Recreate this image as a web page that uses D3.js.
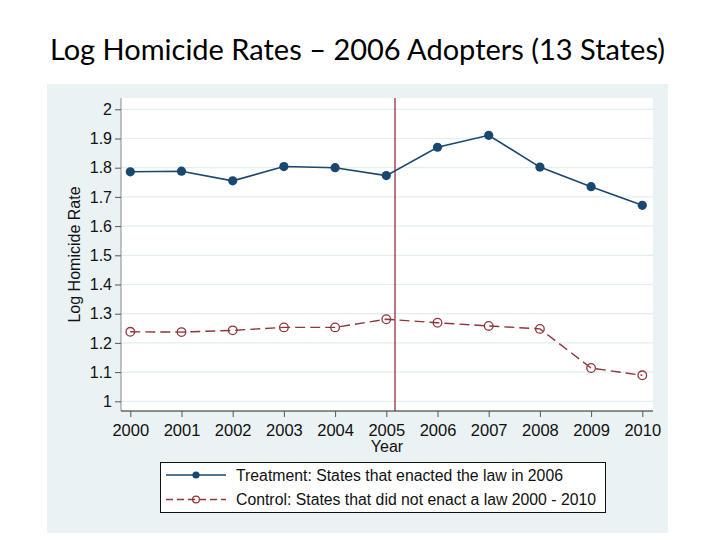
<!DOCTYPE html>
<html>
<head>
<meta charset="utf-8">
<script src="https://cdn.jsdelivr.net/npm/d3@7"></script>
<style>
  body { margin: 0; background: #ffffff; }
  text { font-family: "Liberation Sans", Arial, sans-serif; }
</style>
</head>
<body>
<div id="chart"></div>
<script>
const years = [2000, 2001, 2002, 2003, 2004, 2005, 2006, 2007, 2008, 2009, 2010];
const treatment = [1.786, 1.788, 1.755, 1.804, 1.800, 1.773, 1.870, 1.911, 1.802, 1.735, 1.671];
const control = [1.238, 1.237, 1.243, 1.253, 1.253, 1.281, 1.269, 1.258, 1.248, 1.114, 1.089];
const yTicks = [1, 1.1, 1.2, 1.3, 1.4, 1.5, 1.6, 1.7, 1.8, 1.9, 2];
const adoptLine = 2005.17;
const legendLabels = [
  "Treatment: States that enacted the law in 2006",
  "Control: States that did not enact a law 2000 - 2010"
];

const width = 720;
const height = 540;

var svg = d3.select("#chart").append("svg")
    .attr("width", width)
    .attr("height", height);

// slide title
svg.append("text")
    .attr("x", 357.5)
    .attr("y", 60)
    .attr("text-anchor", "middle")
    .style("font-family", "Lato, 'Open Sans', sans-serif")
    .style("font-size", "29px")
    .attr("fill", "#000")
    .text("Log Homicide Rates \u2013 2006 Adopters (13 States)");

// graph region
svg.append("rect")
    .attr("x", 47).attr("y", 84)
    .attr("width", 621).attr("height", 449)
    .attr("fill", "#eaf2f3");

// plot region
const plot = { left: 121, right: 653, top: 98, bottom: 411 };
svg.append("rect")
    .attr("x", plot.left).attr("y", plot.top)
    .attr("width", plot.right - plot.left).attr("height", plot.bottom - plot.top)
    .attr("fill", "#ffffff");

const xScale = d3.scaleLinear().domain([2000, 2010]).range([130.3, 642.3]);
const yScale = d3.scaleLinear().domain([1, 2]).range([401.3, 109.3]);

// grid lines
svg.append("g")
    .selectAll("line")
    .data(yTicks)
    .join("line")
    .attr("x1", plot.left).attr("x2", plot.right)
    .attr("y1", d => yScale(d)).attr("y2", d => yScale(d))
    .attr("stroke", "#e4edf0")
    .attr("stroke-width", 1.2);

// y axis
var yAxis = d3.axisLeft(yScale)
    .tickValues(yTicks)
    .tickFormat(d3.format("~g"))
    .tickSize(6)
    .tickPadding(3);

var gy = svg.append("g")
    .attr("transform", "translate(" + plot.left + ",0)")
    .call(yAxis);
gy.select(".domain").attr("d", "M0," + plot.top + "V" + plot.bottom).attr("stroke", "#8a8a8a");
gy.selectAll(".tick line").attr("stroke", "#555");
gy.selectAll(".tick text").style("font-size", "16px").attr("fill", "#111");

// x axis
var xAxis = d3.axisBottom(xScale)
    .tickValues(years)
    .tickFormat(d3.format("d"))
    .tickSize(6)
    .tickPadding(7);

var gx = svg.append("g")
    .attr("transform", "translate(0," + plot.bottom + ")")
    .call(xAxis);
gx.select(".domain").attr("d", "M" + plot.left + ",0H" + plot.right).attr("stroke", "#222");
gx.selectAll(".tick line").attr("stroke", "#555");
gx.selectAll(".tick text").style("font-size", "16.5px").attr("fill", "#111");

// axis titles
svg.append("text")
    .attr("x", (plot.left + plot.right) / 2)
    .attr("y", 452)
    .attr("text-anchor", "middle")
    .style("font-size", "16px")
    .attr("fill", "#111")
    .text("Year");

svg.append("text")
    .attr("transform", "translate(80," + (plot.top + plot.bottom) / 2 + ") rotate(-90)")
    .attr("text-anchor", "middle")
    .style("font-size", "16px")
    .attr("fill", "#111")
    .text("Log Homicide Rate");

// adoption line
svg.append("line")
    .attr("x1", xScale(adoptLine)).attr("x2", xScale(adoptLine))
    .attr("y1", plot.top).attr("y2", plot.bottom)
    .attr("stroke", "#8c1c2e")
    .attr("stroke-width", 1.2);

var line = d3.line()
    .x((d, i) => xScale(years[i]))
    .y(d => yScale(d));

// treatment series
svg.append("path")
    .attr("d", line(treatment))
    .attr("fill", "none")
    .attr("stroke", "#1a476f")
    .attr("stroke-width", 1.6);

svg.append("g")
    .selectAll("circle")
    .data(treatment)
    .join("circle")
    .attr("cx", (d, i) => xScale(years[i]))
    .attr("cy", d => yScale(d))
    .attr("r", 4.6)
    .attr("fill", "#1a476f");

// control series
svg.append("path")
    .attr("d", line(control))
    .attr("fill", "none")
    .attr("stroke", "#90353b")
    .attr("stroke-width", 1.4)
    .attr("stroke-dasharray", "10,5");

svg.append("g")
    .selectAll("circle")
    .data(control)
    .join("circle")
    .attr("cx", (d, i) => xScale(years[i]))
    .attr("cy", d => yScale(d))
    .attr("r", 4.3)
    .attr("fill", "none")
    .attr("stroke", "#90353b")
    .attr("stroke-width", 1.3);

// legend
var legend = svg.append("g");
legend.append("rect")
    .attr("x", 160.5).attr("y", 462.5)
    .attr("width", 445).attr("height", 50)
    .attr("fill", "#ffffff")
    .attr("stroke", "#111")
    .attr("stroke-width", 1);

const legendRows = [475, 499.5];

legend.append("line")
    .attr("x1", 166).attr("x2", 226)
    .attr("y1", legendRows[0]).attr("y2", legendRows[0])
    .attr("stroke", "#1a476f").attr("stroke-width", 1.6);
legend.append("circle")
    .attr("cx", 196).attr("cy", legendRows[0]).attr("r", 3.6)
    .attr("fill", "#1a476f");

legend.append("line")
    .attr("x1", 166).attr("x2", 226)
    .attr("y1", legendRows[1]).attr("y2", legendRows[1])
    .attr("stroke", "#90353b").attr("stroke-width", 1.4)
    .attr("stroke-dasharray", "7,4");
legend.append("circle")
    .attr("cx", 196).attr("cy", legendRows[1]).attr("r", 3.4)
    .attr("fill", "none")
    .attr("stroke", "#90353b").attr("stroke-width", 1.2);

legend.selectAll("text")
    .data(legendLabels)
    .join("text")
    .attr("x", 236)
    .attr("y", (d, i) => legendRows[i] + 5.5)
    .style("font-size", "15.8px")
    .attr("fill", "#111")
    .text(d => d);
</script>
</body>
</html>
